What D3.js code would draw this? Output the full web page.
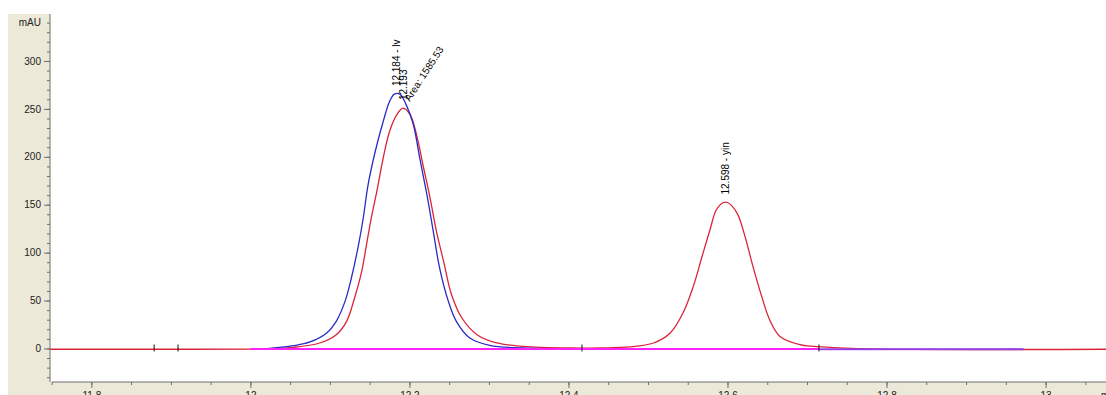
<!DOCTYPE html>
<html>
<head>
<meta charset="utf-8">
<script src="https://cdn.jsdelivr.net/npm/d3@7/dist/d3.min.js"></script>
<style>
  html, body { margin: 0; padding: 0; background: #ffffff; }
  svg { display: block; }
  text { font-family: "Liberation Sans", Arial, sans-serif; }
</style>
</head>
<body>
<svg id="chart" width="1106" height="395"></svg>
<script>
// ---- data ----
const redTime  = [11.748, 11.90, 12.00, 12.02, 12.054, 12.087, 12.108, 12.121, 12.131, 12.140, 12.146, 12.152, 12.159, 12.167, 12.175, 12.184, 12.192, 12.201, 12.209, 12.217, 12.226, 12.234, 12.243, 12.253, 12.266, 12.285, 12.310, 12.343, 12.402, 12.440, 12.477, 12.507, 12.528, 12.544, 12.557, 12.568, 12.578, 12.586, 12.595, 12.600, 12.612, 12.622, 12.632, 12.643, 12.653, 12.666, 12.691, 12.720, 12.780, 13.076];
const redValue = [-0.8, -0.8, -0.7, -0.3, 1.1, 5.7, 14.4, 28.3, 52.7, 80.4, 108.2, 136.1, 163.8, 198.6, 226.4, 243.8, 250.8, 243.8, 222.9, 191.7, 156.9, 122.1, 90.8, 56.1, 31.8, 14.4, 5.7, 2.2, 0.5, 0.6, 1.6, 5.7, 16.2, 37.0, 64.8, 96.0, 123.9, 144.7, 152.3, 152.3, 141.3, 116.9, 85.6, 54.3, 30.0, 12.6, 4.0, 1.6, -0.5, -0.8];

const blueTime  = [12.018, 12.054, 12.075, 12.096, 12.108, 12.119, 12.127, 12.136, 12.142, 12.148, 12.157, 12.167, 12.175, 12.181, 12.188, 12.196, 12.205, 12.213, 12.222, 12.230, 12.238, 12.249, 12.259, 12.276, 12.301, 12.343, 12.400, 12.972];
const blueValue = [-0.5, 2.9, 6.8, 16.2, 28.3, 49.1, 73.5, 108.2, 136.4, 170.8, 205.5, 236.8, 257.7, 265.4, 265.4, 254.2, 233.4, 198.6, 160.4, 122.1, 83.9, 49.1, 28.3, 10.9, 3.2, 0.5, -0.6, -0.8];

const baseTime  = [12.000, 12.715];
const baseValue = [-0.6, -0.6];
const base2Time  = [12.715, 12.972];
const base2Value = [-0.8, -0.8];

const markerTime = [11.879, 11.909, 12.417, 12.715];

const peakTime   = [12.184, 12.193, 12.598];
const peakHeight = [265.4, 250.8, 152.3];
const peakLabel  = ["12.184 - lv", "12.193", "12.598 - yin"];
const areaLabel  = "Area: 1585.53";

const xMajorTicks  = [11.8, 12.0, 12.2, 12.4, 12.6, 12.8, 13.0];
const xMajorLabels = ["11.8", "12", "12.2", "12.4", "12.6", "12.8", "13"];
const yMajorTicks  = [0, 50, 100, 150, 200, 250, 300];
const yMinorTicks  = d3.range(-30, 341, 10);
const xMinorTicks  = d3.range(11.75, 13.06, 0.05).map(v => +v.toFixed(2));

// ---- layout ----
const W = 1106, H = 395;
const plot = { left: 50, right: 1106, top: 14, bottom: 382 };

const svg = d3.select("#chart");

// frame backgrounds
svg.append("rect").attr("x", 8).attr("y", 14).attr("width", W - 8).attr("height", H - 14).attr("fill", "#ECE9D8");
svg.append("rect").attr("x", plot.left).attr("y", plot.top)
  .attr("width", plot.right - plot.left).attr("height", plot.bottom - plot.top).attr("fill", "#ffffff");

const x = d3.scaleLinear().domain([11.748, 13.076]).range([plot.left, plot.right]);
const y = d3.scaleLinear().domain([-35, 349]).range([plot.bottom, plot.top]);

// axes
const axColor = "#6e6e6e";
const gy = svg.append("g").attr("transform", `translate(${plot.left},0)`);
gy.call(d3.axisLeft(y).tickValues(yMinorTicks).tickSize(3).tickFormat(""));
gy.call(g => g.select(".domain").remove());
const gyM = svg.append("g").attr("transform", `translate(${plot.left},0)`);
gyM.call(d3.axisLeft(y).tickValues(yMajorTicks).tickSize(6).tickPadding(3).tickFormat(d3.format("d")));
gyM.selectAll("text").attr("font-size", 10).attr("fill", "#222");
[gy, gyM].forEach(g => g.selectAll("line").attr("stroke", axColor));
gyM.select(".domain").attr("stroke", axColor).attr("d", `M0,${plot.top}V${plot.bottom}`);
svg.append("text").attr("x", plot.left - 9).attr("y", y(340)).attr("dy", "0.32em")
  .attr("text-anchor", "end").attr("font-size", 10).attr("fill", "#222").text("mAU");

const gx = svg.append("g").attr("transform", `translate(0,${plot.bottom})`);
gx.call(d3.axisBottom(x).tickValues(xMinorTicks).tickSize(3).tickFormat(""));
gx.select(".domain").remove();
const gxM = svg.append("g").attr("transform", `translate(0,${plot.bottom})`);
gxM.call(d3.axisBottom(x).tickValues(xMajorTicks).tickSize(6).tickPadding(4)
  .tickFormat((d, i) => xMajorLabels[i]));
gxM.selectAll("text").attr("font-size", 10).attr("fill", "#222");
[gx, gxM].forEach(g => g.selectAll("line").attr("stroke", axColor));
gxM.select(".domain").attr("stroke", axColor).attr("d", `M${plot.left + 2},0H${plot.right}`);
svg.append("text").attr("x", 1101).attr("y", plot.bottom + 10).attr("dy", "0.71em")
  .attr("font-size", 10).attr("fill", "#222").text("min");

// traces
const line = d3.line().x(d => x(d[0])).y(d => y(d[1])).curve(d3.curveCatmullRom.alpha(0.5));
const straight = d3.line().x(d => x(d[0])).y(d => y(d[1]));
const zip = (a, b) => a.map((t, i) => [t, b[i]]);

const plotG = svg.append("g");
plotG.append("path").datum(zip(redTime, redValue)).attr("d", line)
  .attr("fill", "none").attr("stroke", "#dc2438").attr("stroke-width", 1.3);
plotG.append("path").datum(zip(blueTime, blueValue)).attr("d", line)
  .attr("fill", "none").attr("stroke", "#2a2ac8").attr("stroke-width", 1.3);
plotG.append("path").datum(zip(baseTime, baseValue)).attr("d", straight)
  .attr("fill", "none").attr("stroke", "#ff22ff").attr("stroke-width", 2);
plotG.append("path").datum(zip(base2Time, base2Value)).attr("d", straight)
  .attr("fill", "none").attr("stroke", "#b040f0").attr("stroke-width", 2).attr("opacity", 0.8);

// integration markers
plotG.selectAll("line.mk").data(markerTime).join("line").attr("class", "mk")
  .attr("x1", d => x(d)).attr("x2", d => x(d))
  .attr("y1", y(0) - 4).attr("y2", y(0) + 3)
  .attr("stroke", "#111").attr("stroke-width", 1);

// peak labels
peakTime.forEach((t, i) => {
  svg.append("text")
    .attr("transform", `translate(${x(t)},${y(peakHeight[i]) - 8}) rotate(-90)`)
    .attr("dy", "0.35em").attr("text-anchor", "start")
    .attr("font-size", 10).attr("fill", "#000").text(peakLabel[i]);
});
svg.append("text")
  .attr("transform", `translate(${x(peakTime[1]) + 3},${y(peakHeight[1]) - 8}) rotate(-57)`)
  .attr("dy", "0.35em").attr("text-anchor", "start")
  .attr("font-size", 10).attr("fill", "#000").text(areaLabel);
</script>
</body>
</html>
